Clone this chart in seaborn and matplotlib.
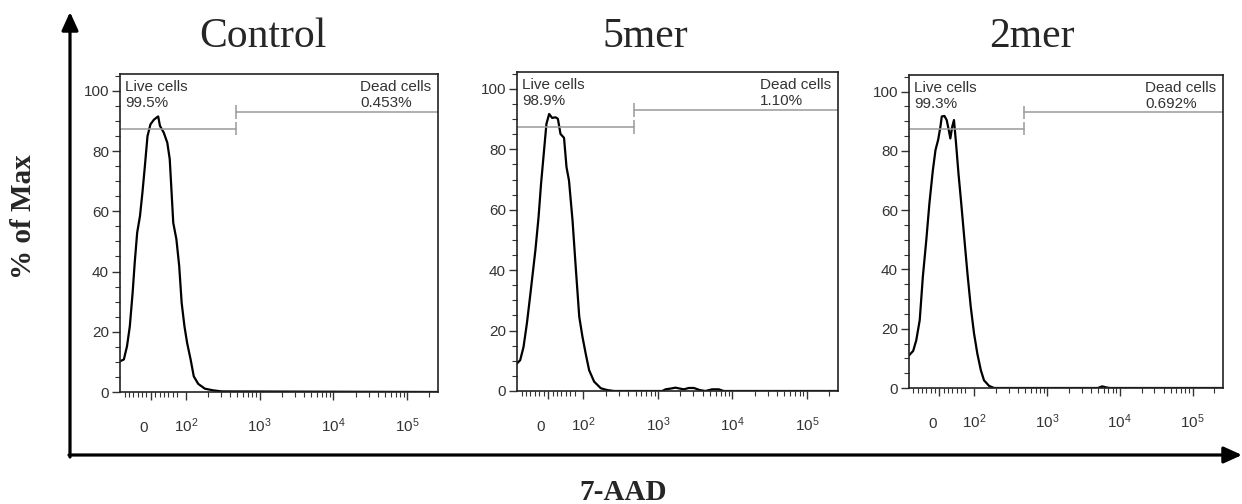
import numpy as np
import pandas as pd
import matplotlib
matplotlib.use("Agg")
import matplotlib.pyplot as plt
from matplotlib.transforms import ScaledTranslation
import seaborn as sns

# --- values (intensity, % of max) ---
samples = ["Control", "5mer", "2mer"]
live_pct = ["99.5%", "98.9%", "99.3%"]
dead_pct = ["0.453%", "1.10%", "0.692%"]

control_x = [-88, -77, -68, -60, -52, -46, -39, -31, -24, -17, -9.5, -1, 8.6, 16, 21,
             26, 37, 47, 54, 64, 73, 81, 88, 96, 104, 116, 128, 147, 181, 234, 304, 262144]
control_y = [10.2, 10.8, 15.2, 21.8, 32.9, 42.9, 52.9, 58.4, 66.2, 75, 85, 88.9, 90.4, 91.1, 91.5,
             88.4, 86.1, 82.8, 77.3, 56.2, 50.7, 41.8, 29.6, 21.8, 16.3, 10.8, 5.2, 2.7, 1.1, 0.55, 0.2, 0]

mer5_x = [-88, -79, -69.5, -60, -50, -36, -27, -20, -12.4, -4.8, 2.9, 11.4, 21, 27.6, 35, 45,
          52, 59, 69, 78, 88, 97, 107, 119, 139, 171, 209, 257,
          1142, 1266, 1477, 1723, 1968, 2228, 2600, 3034, 3648, 4345, 5333, 6561, 7656, 262144]
mer5_y = [9.1, 10.2, 14.6, 22.4, 32.3, 46.6, 57.6, 68.6, 78.5, 88.4, 91.7, 90.4, 90.6, 90.1, 85.1, 83.8,
          74.1, 69.7, 56.5, 41.1, 24.6, 18, 12.4, 6.9, 3.1, 0.9, 0.3, 0,
          0, 0.55, 0.8, 1.1, 0.8, 0.55, 1.0, 1.0, 0.3, 0, 0.55, 0.55, 0, 0]

mer2_x = [-88, -76, -67, -57, -48, -38, -29, -19, -11.4, -3.8, 2.9, 6.7, 14.3, 21, 27, 31.5,
          37, 42, 48, 55, 63, 71.5, 81, 90.5, 100, 111, 124, 137, 161, 189,
          5012, 5750, 6530, 7260, 262144]
mer2_y = [11, 12.5, 16.1, 22.9, 37.5, 49.9, 62.3, 73.5, 80.3, 83.7, 88.2, 91.6, 91.8, 90.4, 87, 84.2,
          88.2, 90.4, 82.5, 72.4, 62.3, 51, 38.6, 27.4, 18.4, 11.6, 6, 2.6, 0.7, 0,
          0, 0.55, 0.2, 0, 0]

# gate settings used in FlowJo
gate_split = 480
live_gate_y = 87.5
dead_gate_y = 93

frames = []
for name, xs, ys in zip(samples, [control_x, mer5_x, mer2_x], [control_y, mer5_y, mer2_y]):
    frames.append(pd.DataFrame({"sample": name, "intensity": xs, "pct_max": ys}))
df = pd.concat(frames, ignore_index=True)

sns.set_theme(style="white")
plt.rcParams["font.family"] = ["Liberation Sans", "DejaVu Sans"]
plt.rcParams["mathtext.fontset"] = "custom"
plt.rcParams["mathtext.rm"] = "Liberation Sans"
plt.rcParams["mathtext.it"] = "Liberation Sans:italic"
plt.rcParams["mathtext.bf"] = "Liberation Sans:bold"

W, H = 1242, 504
fig = plt.figure(figsize=(W / 100, H / 100), dpi=100)

# outer arrows (drawn first, underneath)
ov = fig.add_axes([0, 0, 1, 1])
ov.set_axis_off()
ov.set_xlim(0, W)
ov.set_ylim(H, 0)
arrow = dict(arrowstyle="-|>,head_length=0.55,head_width=0.25", lw=2.3, color="black",
             shrinkA=0, shrinkB=0, mutation_scale=20)
ov.annotate("", xy=(70, 12), xytext=(70, 457), arrowprops=arrow)
ov.annotate("", xy=(1242, 455), xytext=(69, 455), arrowprops=arrow)

boxes = [(120, 74, 438, 392), (517, 72, 838, 391), (909, 75, 1223, 388)]
title_x = [263, 645, 1032]

lin_minor = [s * k * 12.5 for k in range(1, 7) for s in (-1, 1)]
log_minor = [m * 10 ** e for e in range(2, 6) for m in range(2, 10) if m * 10 ** e < 262144]

for i, name in enumerate(samples):
    l, t, r, b = boxes[i]
    ax = fig.add_axes([l / W, 1 - b / H, (r - l) / W, (b - t) / H])
    sub = df[df["sample"] == name]
    sns.lineplot(data=sub, x="intensity", y="pct_max", ax=ax, color="black", lw=1.6,
                 estimator=None, sort=False)
    ax.set_xscale("symlog", linthresh=100, linscale=0.4275)
    ax.set_xlim(-88, 262144)
    ax.set_ylim(0, 105.6)

    # gates
    x0, x1 = ax.get_xlim()
    gcol = "#9a9a9a"
    ax.plot([x0, gate_split], [live_gate_y, live_gate_y], color=gcol, lw=1.1)
    ax.plot([gate_split, x1], [dead_gate_y, dead_gate_y], color=gcol, lw=1.1)
    ax.vlines(gate_split, live_gate_y - 2.3, live_gate_y + 2.3, color=gcol, lw=1.1)
    ax.vlines(gate_split, dead_gate_y - 2.2, dead_gate_y + 2.2, color=gcol, lw=1.1)

    ax.text(0.017, 0.982, "Live cells\n" + live_pct[i], transform=ax.transAxes,
            ha="left", va="top", fontsize=11, color="#333333", linespacing=1.2)
    ax.text(0.978, 0.982, "Dead cells\n" + dead_pct[i], transform=ax.transAxes,
            ha="right", va="top", multialignment="left", fontsize=11, color="#333333",
            linespacing=1.2)

    ax.set_xticks([0, 1e2, 1e3, 1e4, 1e5])
    ax.set_xticklabels(["0", "$10^2$", "$10^3$", "$10^4$", "$10^5$"])
    ax.set_xticks([v for v in lin_minor if v > -88] + log_minor, minor=True)
    ax.set_yticks(range(0, 101, 20))
    ax.set_yticks(range(0, 106, 5), minor=True)
    ax.tick_params(which="both", bottom=True, left=True, direction="out", color="#333333")
    ax.tick_params(which="major", length=6, width=1, labelsize=11, labelcolor="#333333")
    ax.tick_params(which="minor", length=3.5, width=0.8)
    ax.tick_params(axis="y", pad=2)
    ax.tick_params(axis="x", pad=23)
    xlabels = ax.get_xticklabels()
    for lab in xlabels:
        lab.set_verticalalignment("baseline")
    # FlowJo puts the "0" label a little left of its tick
    xlabels[0].set_transform(xlabels[0].get_transform()
                             + ScaledTranslation(-0.07, 0, fig.dpi_scale_trans))
    ax.set_xlabel("")
    ax.set_ylabel("")
    for sp in ax.spines.values():
        sp.set_color("#222222")
        sp.set_linewidth(1.2)

    fig.text(title_x[i] / W, 1 - 47 / H, name, ha="center", va="baseline",
             fontsize=30, family="Liberation Serif")

fig.text(24 / W, 1 - 217 / H, "% of Max", rotation=90, ha="center", va="center",
         fontsize=21, fontweight="bold", family="Liberation Serif")
fig.text(623 / W, 1 - 492 / H, "7-AAD", ha="center", va="center",
         fontsize=21, fontweight="bold", family="Liberation Serif")

fig.savefig("out.png", dpi=100)
